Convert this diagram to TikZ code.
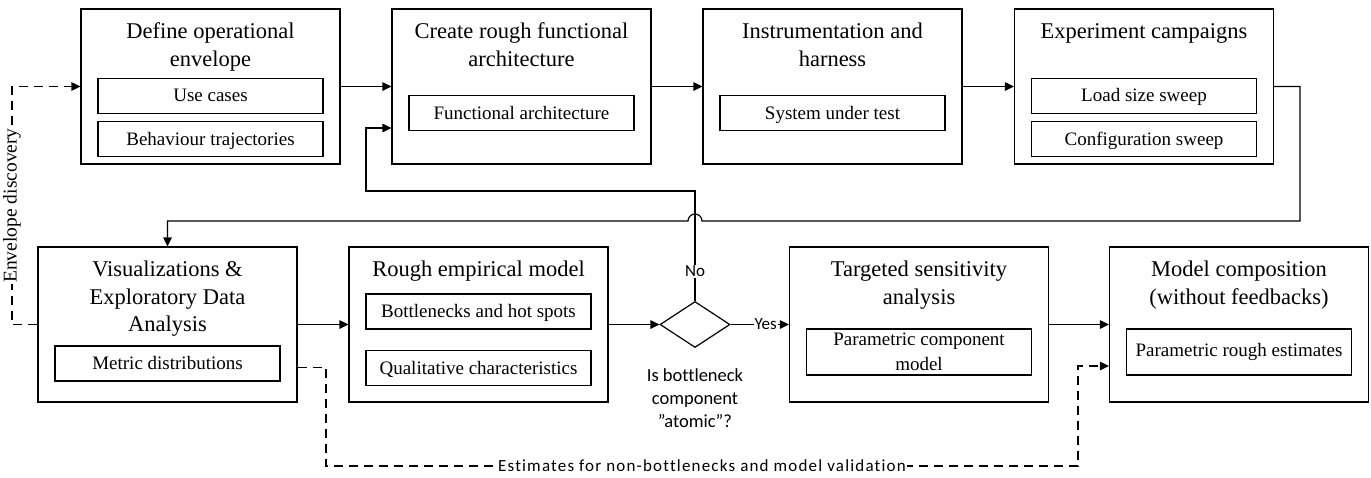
\documentclass[tikz,border=0pt]{standalone}
\usepackage{fontspec}
\setmainfont{Liberation Serif}
\newfontfamily\calib[Ligatures=NoCommon]{Carlito}
\usetikzlibrary{arrows.meta,shapes.geometric}
\newcommand\ttlfont{\fontsize{22.5}{27.5}\selectfont}
\newcommand\prtfont{\fontsize{19}{25}\selectfont}
\newcommand\envfont{\fontsize{19.5}{22}\selectfont}
\newcommand\sanslbl{\calib\fontsize{17}{23}\selectfont}
\newcommand\asklbl{\calib\fontsize{18.5}{23}\selectfont}
\begin{document}
\begin{tikzpicture}[x=1pt,y=-1pt,line width=1.2pt,
  stage/.style={draw, minimum width=259pt, minimum height=155pt, inner sep=0pt},
  part/.style={draw, minimum width=225pt, minimum height=35pt, inner sep=0pt,
    font=\prtfont, text height=12.5pt, text depth=0pt},
  parttwo/.style={draw, minimum width=225pt, minimum height=46pt, inner sep=0pt,
    font=\prtfont, align=center},
  title/.style={font=\ttlfont, align=center, anchor=north, inner sep=0pt},
  flow/.style={-{Triangle[length=9pt,width=8.5pt]}},
  dashflow/.style={flow, dash pattern=on 9pt off 6pt},
  tag/.style={font=\sanslbl, fill=white, inner sep=1pt}
]
\path[use as bounding box] (0,0) rectangle (1371,477);

% ---- top row of stages
\node[stage] (b1) at (210.5,86.5) {};
\node[stage] (b2) at (521.5,86.5) {};
\node[stage] (b3) at (832.5,86.5) {};
\node[stage] (b4) at (1144,86.5) {};
\node[title] (t1) at ([yshift=-10.25pt]b1.north) {\strut Define operational\\envelope};
\node[title] (t2) at ([yshift=-10.25pt]b2.north) {\strut Create rough functional\\architecture};
\node[title] (t3) at ([yshift=-10.25pt]b3.north) {\strut Instrumentation and\\harness};
\node[title] (t4) at ([yshift=-10.25pt]b4.north) {\strut Experiment campaigns};
\node[part] (p11) at (210.5,95.7) {Use cases};
\node[part] (p12) at (210.5,139) {Behaviour trajectories};
\node[part] (p21) at (521.5,113) {Functional architecture};
\node[part] (p31) at (832.5,113) {System under test};
\node[part] (p41) at (1144,95.7) {Load size sweep};
\node[part] (p42) at (1144,139) {Configuration sweep};

% ---- bottom row of stages
\node[stage] (b5) at (167.5,324.5) {};
\node[stage] (b6) at (478.5,324.5) {};
\node[stage] (b7) at (919,324.5) {};
\node[stage] (b8) at (1239,324.5) {};
\node[title] (t5) at ([yshift=-10.25pt]b5.north) {\strut Visualizations \&\\Exploratory Data\\Analysis};
\node[title] (t6) at ([yshift=-10.25pt]b6.north) {\strut Rough empirical model};
\node[title] (t7) at ([yshift=-10.25pt]b7.north) {\strut Targeted sensitivity\\analysis};
\node[title] (t8) at ([yshift=-10.25pt]b8.north) {\strut Model composition\\(without feedbacks)};
\node[part] (p51) at (167.5,363.5) {Metric distributions};
\node[part] (p61) at (478.5,311.5) {Bottlenecks and hot spots};
\node[part] (p62) at (478.5,368) {Qualitative characteristics};
\node[parttwo] (p71) at (919,352) {Parametric component\\model};
\node[parttwo] (p81) at (1239,352) {Parametric rough estimates};

% ---- decision
\node[draw, diamond, minimum width=70pt, minimum height=46pt, aspect=1.52, inner sep=0pt] (dia) at (695,324.5) {};
\node[font=\asklbl, align=center, anchor=north, inner sep=0pt] (q) at (695,364.6)
  {\strut Is bottleneck\\component\\”atomic”?};

% ---- main flow
\draw[flow] (b1.east) -- (b2.west);
\draw[flow] (b2.east) -- (b3.west);
\draw[flow] (b3.east) -- (b4.west);
\coordinate (rt) at (1300,221);
\coordinate (hop) at (702,221);
\coordinate (lt) at (167.5,221);
\draw[flow] (b4.east) -| (rt) -- (hop) arc[start angle=0, end angle=180, radius=7pt] -- (lt) -- (b5.north);
\draw[flow] (b5.east) -- (b6.west);
\draw[flow] (b6.east) -- (dia.west);
\draw[flow] (dia.east) -- node[tag, pos=.6] {Yes} (b7.west);
\draw[flow] (b7.east) -- (b8.west);

% ---- back to architecture when the bottleneck is not atomic
\coordinate (fbR) at (695,191);
\coordinate (fbL) at (366,191);
\coordinate (b2in) at ([yshift=-41.5pt]b2.west);
\draw[flow] (dia.north) -- node[tag, pos=.27] {No} (fbR) -- (fbL) |- (b2in);

% ---- envelope discovery loop
\coordinate (envB) at (12,324.5);
\coordinate (envT) at (12,86.5);
\draw[dashflow] (b5.west) -- (envB) -- node[sloped, fill=white, inner sep=1pt, font=\envfont] {Envelope discovery} (envT) -- (b1.west);

% ---- estimates path
\coordinate (b5out) at ([yshift=-43pt]b5.east);
\coordinate (b8in) at ([yshift=-41.5pt]b8.west);
\coordinate (e2) at (326,466);
\coordinate (e3) at (1078,466);
\draw[dashflow] (b5out) -| (e2) -- node[tag, font=\calib\fontsize{17}{20}\selectfont\addfontfeature{LetterSpace=7}] {Estimates for non-bottlenecks and model validation} (e3) |- (b8in);
\end{tikzpicture}
\end{document}
